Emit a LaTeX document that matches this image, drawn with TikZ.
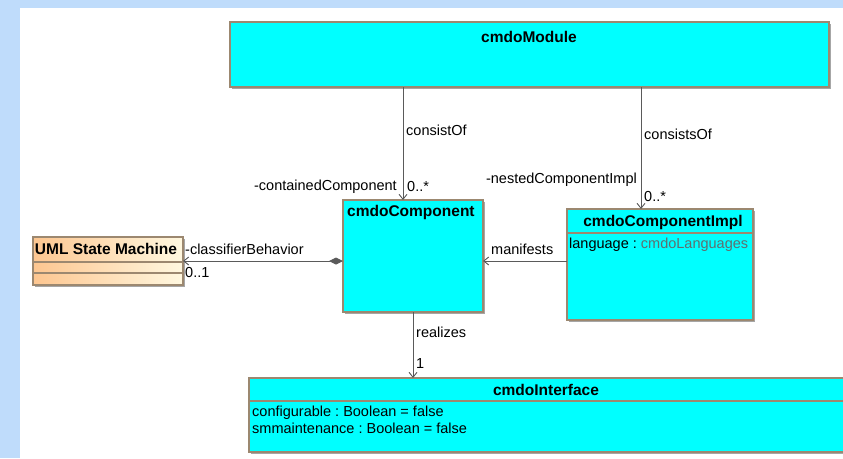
\documentclass[tikz,border=0pt]{standalone}
\usepackage{fontspec}
\setmainfont{Liberation Sans}
\usetikzlibrary{arrows.meta,shadows}
\definecolor{bgblue}{HTML}{BFDCFB}
\definecolor{clsfill}{HTML}{00FFFF}
\definecolor{clsedge}{HTML}{9C8870}
\definecolor{wiregray}{HTML}{5A5A5A}
\definecolor{smleft}{HTML}{FDC690}
\definecolor{smright}{HTML}{FFF8E0}
\definecolor{typegray}{HTML}{5F6F6F}
\frenchspacing

\begin{document}
\begin{tikzpicture}[x=1pt,y=-1pt,
    every node/.style={font=\fontsize{14.5}{16}\selectfont},
    classbox/.style={draw=clsedge,line width=1.2pt,fill=clsfill,inner sep=0pt,outer sep=0pt,anchor=north west,
      drop shadow={shadow xshift=2pt,shadow yshift=-2pt,fill=black!35,opacity=1}},
    sep/.style={draw=clsedge,line width=1.2pt},
    title/.style={font=\fontsize{15.5}{17}\selectfont\bfseries,inner sep=0pt},
    lbl/.style={inner sep=0pt},
    wire/.style={draw=wiregray,line width=0.9pt},
    nav/.style={wire,-{Straight Barb[length=5pt,width=8pt]}}]
            \fill[bgblue] (0,0) rectangle (843,458);
            \fill[white] (20,8) rectangle (843,458);
            \useasboundingbox (0,0) rectangle (843,458);

            \node[classbox,minimum width=599pt,minimum height=65pt] (module) at (230,22) {};
            \node[title] (module-name) at (529,37) {cmdoModule};

            \node[classbox,minimum width=140pt,minimum height=112pt] (component) at (343,200) {};
            \node[title,anchor=west] (component-name) at (347,212) {cmdoComponent};

            \node[classbox,minimum width=186pt,minimum height=111pt] (impl) at (567,209) {};
            \node[title] (impl-name) at (663,222) {cmdoComponentImpl};
            \draw[sep] (impl.west |- 0,233) -- (impl.east |- 0,233);
            \node[lbl,anchor=west] (impl-attr) at (569,245) {language : \textcolor{typegray}{cmdoLanguages}};

            \node[classbox,fill=none,left color=smleft,right color=smright,minimum width=150pt,minimum height=48pt] (machine) at (33,237) {};
            \node[title] (machine-name) at (106,249) {UML State Machine};
            \draw[sep] (machine.west |- 0,262) -- (machine.east |- 0,262);
            \draw[sep] (machine.west |- 0,273) -- (machine.east |- 0,273);

            \node[classbox,minimum width=600pt,minimum height=74pt] (iface) at (249,378) {};
            \node[title] (iface-name) at (546,390) {cmdoInterface};
            \draw[sep] (iface.west |- 0,401) -- (iface.east |- 0,401);
            \node[lbl,anchor=west] (iface-attr1) at (252,413) {configurable : Boolean = false};
            \node[lbl,anchor=west] (iface-attr2) at (252,428) {smmaintenance : Boolean = false};

            \draw[nav] (module.south -| 403,0) -- (component.north -| 403,0);
            \node[lbl,anchor=west] (consist-lbl) at (406,130) {consistOf};
            \node[lbl,anchor=east] (contained-role) at (397,187) {-containedComponent};
            \node[lbl,anchor=west] (contained-mult) at (407,187) {0..*};

            \draw[nav] (module.south -| 641,0) -- (impl.north -| 641,0);
            \node[lbl,anchor=west] (consists-lbl) at (644,134) {consistsOf};
            \node[lbl,anchor=east] (nested-role) at (637,180) {-nestedComponentImpl};
            \node[lbl,anchor=west] (nested-mult) at (644,197) {0..*};

            \draw[nav] (impl.west |- 0,261) -- (component.east |- 0,261);
            \node[lbl,anchor=west] (manifests-lbl) at (491,249) {manifests};

            \draw[wire,{Diamond[length=14pt,width=7pt]}-{Straight Barb[length=5pt,width=8pt]}] (component.west |- 0,261) -- (machine.east |- 0,261);
            \node[lbl,anchor=west] (behavior-role) at (185,249) {-classifierBehavior};
            \node[lbl,anchor=west] (behavior-mult) at (185,273) {0..1};

            \draw[nav] (component.south -| 413,0) -- (iface.north -| 413,0);
            \node[lbl,anchor=west] (realizes-lbl) at (416,332) {realizes};
            \node[lbl,anchor=west] (realizes-mult) at (416,364) {1};
        \end{tikzpicture}
\end{document}
